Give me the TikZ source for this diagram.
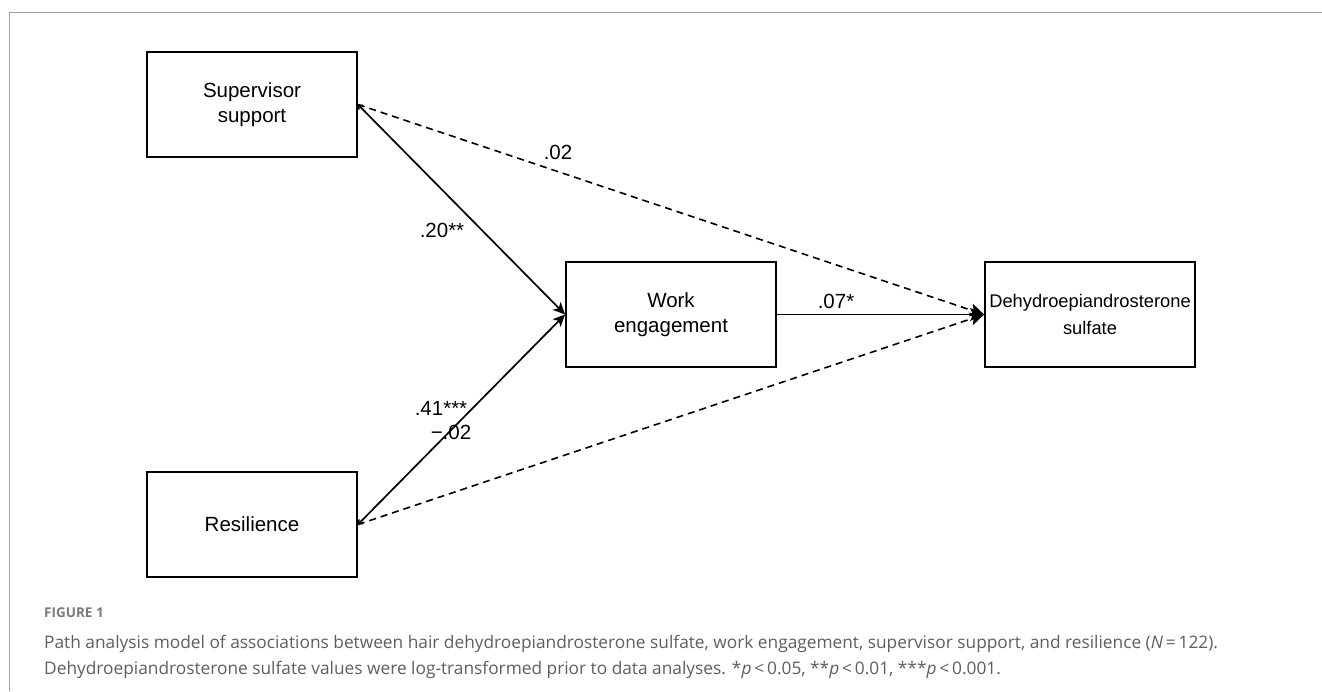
\documentclass[tikz,border=0pt]{standalone}
\usepackage{fontspec}
\setmainfont{Liberation Sans}
\newfontfamily\capfont{Open Sans}
\usetikzlibrary{arrows.meta}
\definecolor{framegray}{HTML}{A0A0A0}
\definecolor{capgray}{HTML}{5E5E5E}
\definecolor{figgray}{HTML}{7A7A7A}
\begin{document}
\begin{tikzpicture}[x=1pt,y=-1pt,
  box/.style={draw=black, line width=1.8pt, minimum width=210pt, minimum height=105pt,
    inner sep=0pt, align=center, font=\fontsize{20.5}{25}\selectfont},
  solidpath/.style={line width=1.7pt},
  dashpath/.style={line width=1.6pt, dash pattern=on 7pt off 5pt},
  bighead/.style={-{Stealth[length=14pt,width=13pt,inset=3pt]}},
  lbl/.style={font=\fontsize{20.5}{25}\selectfont, inner sep=0pt},
  capline/.style={anchor=base west, inner sep=0pt, text=capgray, font=\capfont\fontsize{17.3}{20}\selectfont}
]
\useasboundingbox (0,0) rectangle (1322,691);
% frame
\draw[framegray, line width=1.5pt] (9.5,691) -- (9.5,12.5) -- (1322,12.5);

% boxes
\node[box] (sup) at (252,104.5) {Supervisor\\support};
\node[box] (res) at (252,524.5) {Resilience};
\node[box] (work) at (671,314.5) {Work\\engagement};
\node[box, font=\fontsize{18.3}{27}\selectfont] (dhea) at (1090,314.5) {Dehydroepiandrosterone\\sulfate};

% connectors
\draw[dashpath, bighead] (sup.east) -- (dhea.west);
\draw[dashpath, bighead] (res.east) -- (dhea.west);
\draw[solidpath, {Straight Barb[length=3pt,width=6pt]}-{Stealth[length=12pt,width=11pt,inset=3pt]}] (sup.east) -- (work.west);
\draw[solidpath, {Straight Barb[length=3pt,width=6pt]}-{Stealth[length=12pt,width=11pt,inset=3pt]}] (res.east) -- (work.west);
\draw[solidpath, bighead] (work.east) -- (dhea.west);

% labels
\node[lbl] (l02) at (558,152) {.02};
\node[lbl] (l20) at (442,230) {.20**};
\node[lbl] (l41) at (441,408) {.41***};
\node[lbl] (lm02) at (451,432) {\char"2212.02};
\node[lbl] (l07) at (836,301) {.07*};

% caption
\node[anchor=base west, inner sep=0pt, text=figgray, font=\capfont\bfseries\fontsize{13.5}{16}\selectfont] (fig) at (44,617) {FIGURE 1};
\node[capline] (cap1) at (44,648) {Path analysis model of associations between hair dehydroepiandrosterone sulfate, work engagement, supervisor support, and resilience (\textit{N}\,=\,122).};
\node[capline] (cap2) at (44,674) {Dehydroepiandrosterone sulfate values were log-transformed prior to data analyses. *\textit{p}\,<\,0.05, **\textit{p}\,<\,0.01, ***\textit{p}\,<\,0.001.};
\end{tikzpicture}
\end{document}
